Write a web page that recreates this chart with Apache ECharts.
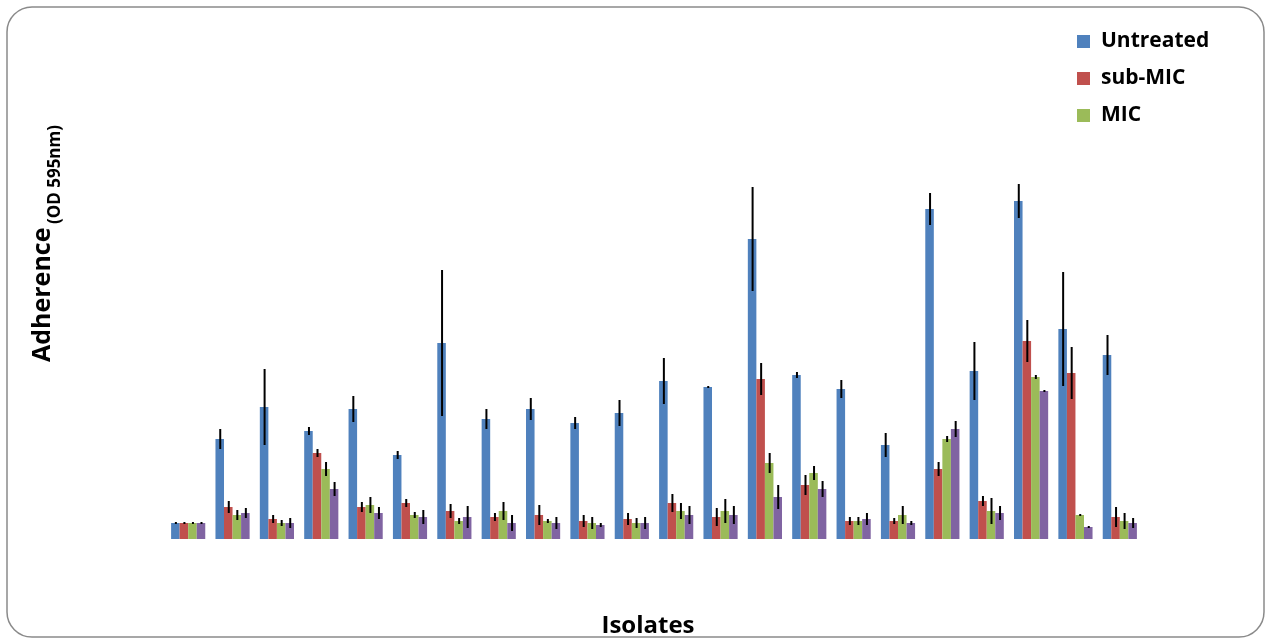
<!DOCTYPE html>
<html>
<head>
<meta charset="utf-8">
<script src="https://cdn.jsdelivr.net/npm/echarts@6/dist/echarts.min.js"></script>
<style>
html,body{margin:0;padding:0;background:#fff;}
#chart{width:1268px;height:639px;}
</style>
</head>
<body>
<div id="chart"></div>
<script>
// Isolates (no labels shown on the axis)
var categories = ['1','2','3','4','5','6','7','8','9','10','11','12','13','14','15','16','17','18','19','20','21','22'];
var seriesNames = ['Untreated', 'sub-MIC', 'MIC', 'Series 4'];

// Adherence (OD 595nm) values
var untreated = [0.16,1.00,1.32,1.08,1.30,0.84,1.96,1.20,1.30,1.16,1.26,1.58,1.52,3.00,1.64,1.50,0.94,3.30,1.68,3.38,2.10,1.84];
var subMIC    = [0.16,0.32,0.20,0.86,0.32,0.36,0.28,0.22,0.24,0.18,0.20,0.36,0.22,1.60,0.54,0.18,0.18,0.70,0.38,1.98,1.66,0.22];
var mic       = [0.16,0.24,0.16,0.70,0.34,0.24,0.18,0.28,0.18,0.16,0.16,0.28,0.28,0.76,0.66,0.18,0.24,1.00,0.28,1.62,0.24,0.18];
var series4   = [0.16,0.26,0.16,0.50,0.26,0.22,0.22,0.16,0.16,0.14,0.16,0.24,0.24,0.42,0.50,0.20,0.16,1.10,0.26,1.48,0.12,0.16];

// Error bar half-lengths
var untreatedErr = [0.01,0.10,0.38,0.04,0.13,0.04,0.73,0.10,0.11,0.06,0.13,0.23,0.01,0.52,0.03,0.09,0.12,0.16,0.29,0.17,0.57,0.20];
var subMICErr    = [0.01,0.06,0.04,0.04,0.05,0.04,0.07,0.04,0.10,0.06,0.06,0.09,0.09,0.16,0.10,0.04,0.03,0.07,0.05,0.21,0.26,0.10];
var micErr       = [0.01,0.05,0.03,0.07,0.08,0.03,0.03,0.09,0.02,0.06,0.05,0.08,0.12,0.10,0.07,0.04,0.09,0.03,0.13,0.02,0.01,0.08];
var series4Err   = [0.01,0.05,0.05,0.07,0.06,0.07,0.11,0.08,0.06,0.02,0.06,0.09,0.09,0.12,0.08,0.06,0.02,0.08,0.07,0.00,0.01,0.05];

var colors = ['#4F81BD', '#C0504D', '#9BBB59', '#8064A2'];
var values = [untreated, subMIC, mic, series4];
var errors = [untreatedErr, subMICErr, micErr, series4Err];
var catGap = 0.23;

var chart = echarts.init(document.getElementById('chart'), null, {renderer: 'canvas'});

var series = [];
values.forEach(function (vals, i) {
  series.push({
    name: seriesNames[i],
    type: 'bar',
    data: vals,
    barGap: '0%',
    barCategoryGap: (catGap * 100) + '%',
    itemStyle: {color: colors[i]},
    z: 2
  });
});
values.forEach(function (vals, i) {
  var data = vals.map(function (v, k) { return [k, v, errors[i][k]]; });
  series.push({
    name: 'err' + i,
    type: 'custom',
    data: data,
    z: 5,
    silent: true,
    renderItem: function (params, api) {
      var k = api.value(0), v = api.value(1), e = api.value(2);
      var band = api.size([1, 0])[0];
      var bw = band * (1 - catGap) / 4;
      var c = api.coord([k, v]);
      var x = c[0] - band * (1 - catGap) / 2 + bw * (i + 0.5) + 0.5;
      var top = api.coord([k, v + e])[1];
      var bot = api.coord([k, v - e])[1];
      if (bot - top < 2) { top -= 1; bot += 1; }
      return {
        type: 'line',
        shape: {x1: x, y1: top, x2: x, y2: bot},
        style: {stroke: '#000', lineWidth: 2}
      };
    }
  });
});

var option = {
  animation: false,
  backgroundColor: '#fff',
  grid: {left: 166, right: 126, top: 139, bottom: 100},
  legend: {
    data: ['Untreated', 'sub-MIC', 'MIC'],
    orient: 'vertical',
    left: 1072,
    top: 26,
    itemWidth: 13,
    itemHeight: 13,
    itemGap: 16,
    icon: 'rect',
    textStyle: {
      fontFamily: 'Open Sans',
      fontWeight: 'bold',
      fontSize: 21,
      color: '#000',
      padding: [0, 0, 0, 6]
    }
  },
  xAxis: {
    type: 'category',
    data: categories,
    axisLine: {show: false},
    axisTick: {show: false},
    axisLabel: {show: false},
    splitLine: {show: false}
  },
  yAxis: {
    type: 'value',
    min: 0,
    max: 4,
    axisLine: {show: false},
    axisTick: {show: false},
    axisLabel: {show: false},
    splitLine: {show: false}
  },
  graphic: [
    {
      type: 'rect',
      shape: {x: 7, y: 7, width: 1257, height: 630, r: 25},
      style: {fill: 'none', stroke: '#8a8a8a', lineWidth: 1.5},
      silent: true,
      z: 0
    },
    {
      type: 'text',
      x: 43, y: 362,
      rotation: Math.PI / 2,
      style: {
        text: 'Adherence',
        fontFamily: 'Open Sans', fontWeight: 'bold', fontSize: 25,
        fill: '#000', textAlign: 'left', textVerticalAlign: 'middle'
      }
    },
    {
      type: 'text',
      x: 55, y: 125,
      rotation: Math.PI / 2,
      style: {
        text: '(OD 595nm)',
        fontFamily: 'Open Sans', fontWeight: 'bold', fontSize: 17,
        fill: '#000', textAlign: 'right', textVerticalAlign: 'middle'
      }
    },
    {
      type: 'text',
      x: 648, y: 626,
      style: {
        text: 'Isolates',
        fontFamily: 'Open Sans', fontWeight: 'bold', fontSize: 24,
        fill: '#000', textAlign: 'center', textVerticalAlign: 'middle'
      }
    }
  ],
  series: series
};
chart.setOption(option);
</script>
</body>
</html>
